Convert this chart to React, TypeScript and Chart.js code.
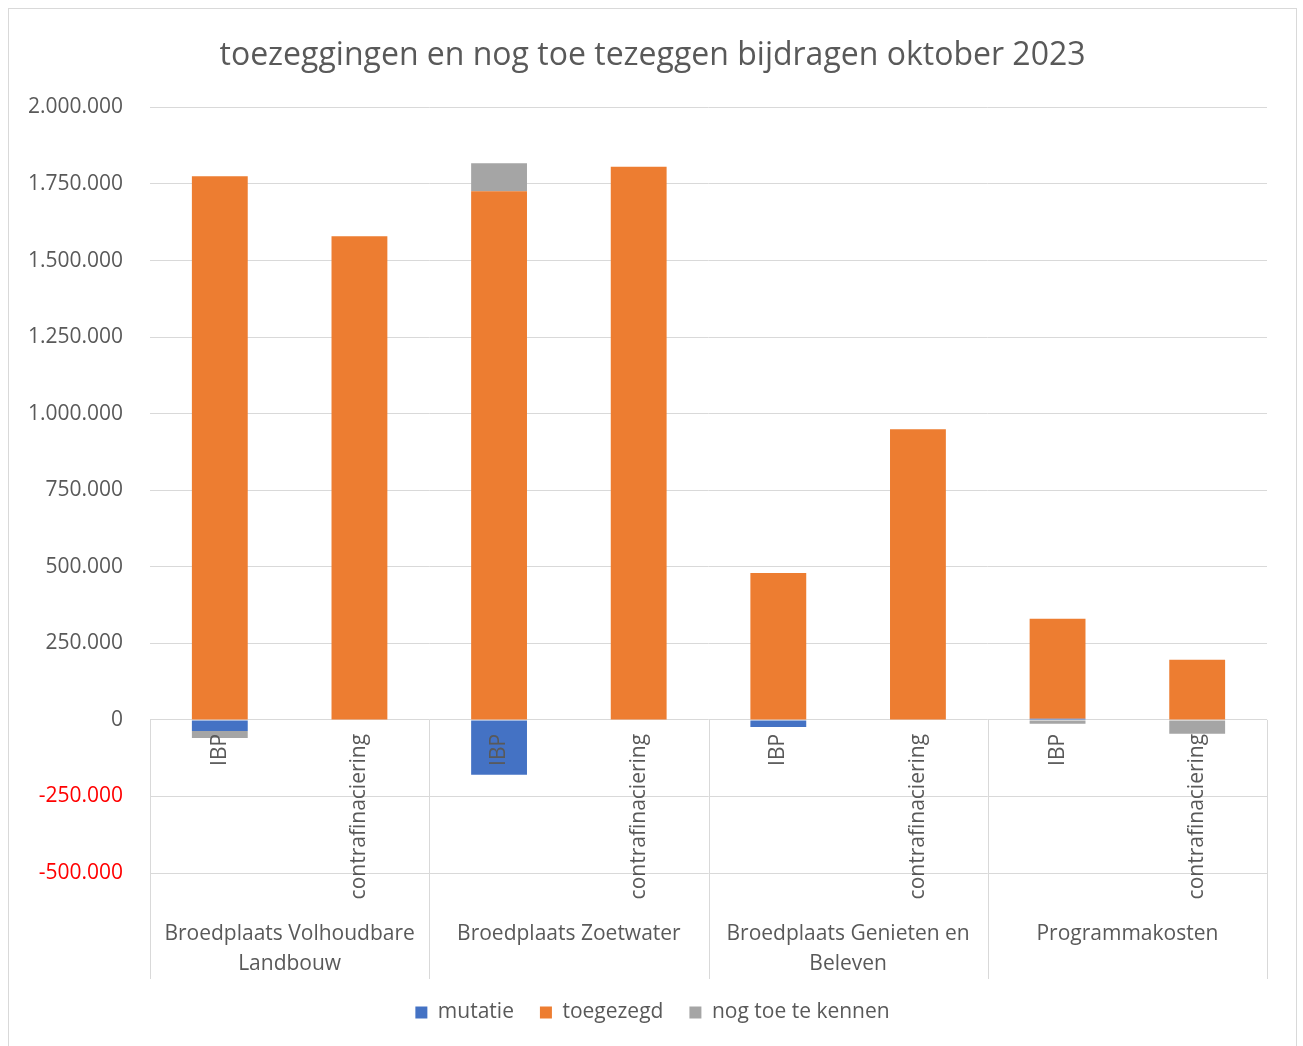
import React, { useEffect, useRef } from "react";
import { Chart, registerables } from "chart.js";

Chart.register(...registerables);

// ---- data ----
const categories = [
  "IBP",
  "contrafinaciering",
  "IBP",
  "contrafinaciering",
  "IBP",
  "contrafinaciering",
  "IBP",
  "contrafinaciering",
];
const groups: string[][] = [
  ["Broedplaats Volhoudbare", "Landbouw"],
  ["Broedplaats Zoetwater"],
  ["Broedplaats Genieten en", "Beleven"],
  ["Programmakosten"],
];
const mutatie = [-36000, 0, -179000, 0, -23000, 0, 4000, 0];
const toegezegd = [1775000, 1579000, 1726000, 1806000, 480000, 949000, 326000, 196000];
const nogToeTeKennen = [-23000, 0, 92000, 0, 0, 0, -13000, -45000];
const seriesNames = ["mutatie", "toegezegd", "nog toe te kennen"];
const yMin = -500000;
const yMax = 2000000;
const yStep = 250000;
const titleText = "toezeggingen en nog toe tezeggen bijdragen oktober 2023";

const FONT = "'Open Sans', 'Noto Sans', sans-serif";
const TEXT = "#595959";
const GRID = "#D9D9D9";
const FS = 21;

function fmt(v: number): string {
  const s = Math.abs(Math.round(v)).toString().replace(/\B(?=(\d{3})+(?!\d))/g, ".");
  return (v < 0 ? "-" : "") + s;
}

const multiAxisPlugin = {
  id: "multiAxis",
  afterDraw(chart: any) {
    const ctx = chart.ctx;
    const xs = chart.scales.x;
    const ys = chart.scales.y;
    const area = chart.chartArea;
    const zero = ys.getPixelForValue(0);
    const sepBottom = area.bottom + 106;
    const per = categories.length / groups.length;
    ctx.save();
    ctx.strokeStyle = GRID;
    ctx.lineWidth = 1;
    const boundary = (i: number) => {
      if (i <= 0) return area.left;
      if (i >= categories.length) return area.right;
      return (xs.getPixelForValue(i - 1) + xs.getPixelForValue(i)) / 2;
    };
    for (let g = 0; g <= groups.length; g++) {
      const px = Math.round(boundary(g * per)) + 0.5;
      ctx.beginPath();
      ctx.moveTo(px, zero);
      ctx.lineTo(px, sepBottom);
      ctx.stroke();
    }
    ctx.fillStyle = TEXT;
    ctx.font = `${FS}px ${FONT}`;
    ctx.textAlign = "right";
    ctx.textBaseline = "middle";
    categories.forEach((c, i) => {
      const cx = xs.getPixelForValue(i);
      ctx.save();
      ctx.translate(cx, zero + 14);
      ctx.rotate(-Math.PI / 2);
      ctx.fillText(c, 0, 0);
      ctx.restore();
    });
    ctx.textAlign = "center";
    groups.forEach((lines, g) => {
      const cx = (boundary(g * per) + boundary((g + 1) * per)) / 2;
      lines.forEach((line, li) => {
        ctx.fillText(line, cx, area.bottom + 61 + li * 30);
      });
    });
    ctx.restore();
  },
};

export default function App() {
  const ref = useRef<HTMLCanvasElement | null>(null);
  useEffect(() => {
    if (!ref.current) return;
    const chart = new Chart(ref.current, {
      type: "bar",
      data: {
        labels: categories,
        datasets: [
          { label: seriesNames[0], data: mutatie, backgroundColor: "#4472C4" },
          { label: seriesNames[1], data: toegezegd, backgroundColor: "#ED7D31" },
          { label: seriesNames[2], data: nogToeTeKennen, backgroundColor: "#A5A5A5" },
        ],
      },
      options: {
        animation: false,
        responsive: false,
        layout: { padding: { left: 0, right: 0, top: 0, bottom: 14 } },
        datasets: { bar: { categoryPercentage: 1, barPercentage: 0.4, borderWidth: 0 } },
        plugins: {
          title: {
            display: true,
            text: titleText,
            color: TEXT,
            font: { family: FONT, size: 32, weight: "normal" },
            padding: { top: 28, bottom: 32 },
          },
          legend: {
            position: "bottom",
            labels: {
              color: TEXT,
              font: { family: FONT, size: FS },
              boxWidth: 12,
              boxHeight: 12,
              padding: 26,
            },
          },
          tooltip: { enabled: false },
        },
        scales: {
          x: {
            type: "category",
            stacked: true,
            grid: { display: false },
            border: { display: false },
            ticks: { display: false },
            afterFit(scale: any) {
              scale.height = 103;
            },
          },
          y: {
            stacked: true,
            min: yMin,
            max: yMax,
            grid: { color: GRID, drawTicks: false, lineWidth: 1 },
            border: { display: false },
            ticks: {
              stepSize: yStep,
              padding: 27,
              color: (c: any) => (c.tick && c.tick.value < 0 ? "#FF0000" : TEXT),
              font: { family: FONT, size: FS },
              callback: (v: any) => fmt(Number(v)),
            },
            afterFit(scale: any) {
              scale.width = 141;
            },
          },
          yRight: {
            position: "right",
            grid: { display: false },
            border: { display: false },
            ticks: { display: false },
            afterFit(scale: any) {
              scale.width = 29;
            },
          },
        },
      },
      plugins: [multiAxisPlugin],
    });
    return () => chart.destroy();
  }, []);
  return (
    <div
      style={{
        position: "fixed",
        left: 8,
        top: 8,
        width: 1289,
        height: 1040,
        border: `1px solid ${GRID}`,
        boxSizing: "border-box",
        background: "#fff",
      }}
    >
      <canvas ref={ref} width={1287} height={1038} style={{ display: "block" }} />
    </div>
  );
}
